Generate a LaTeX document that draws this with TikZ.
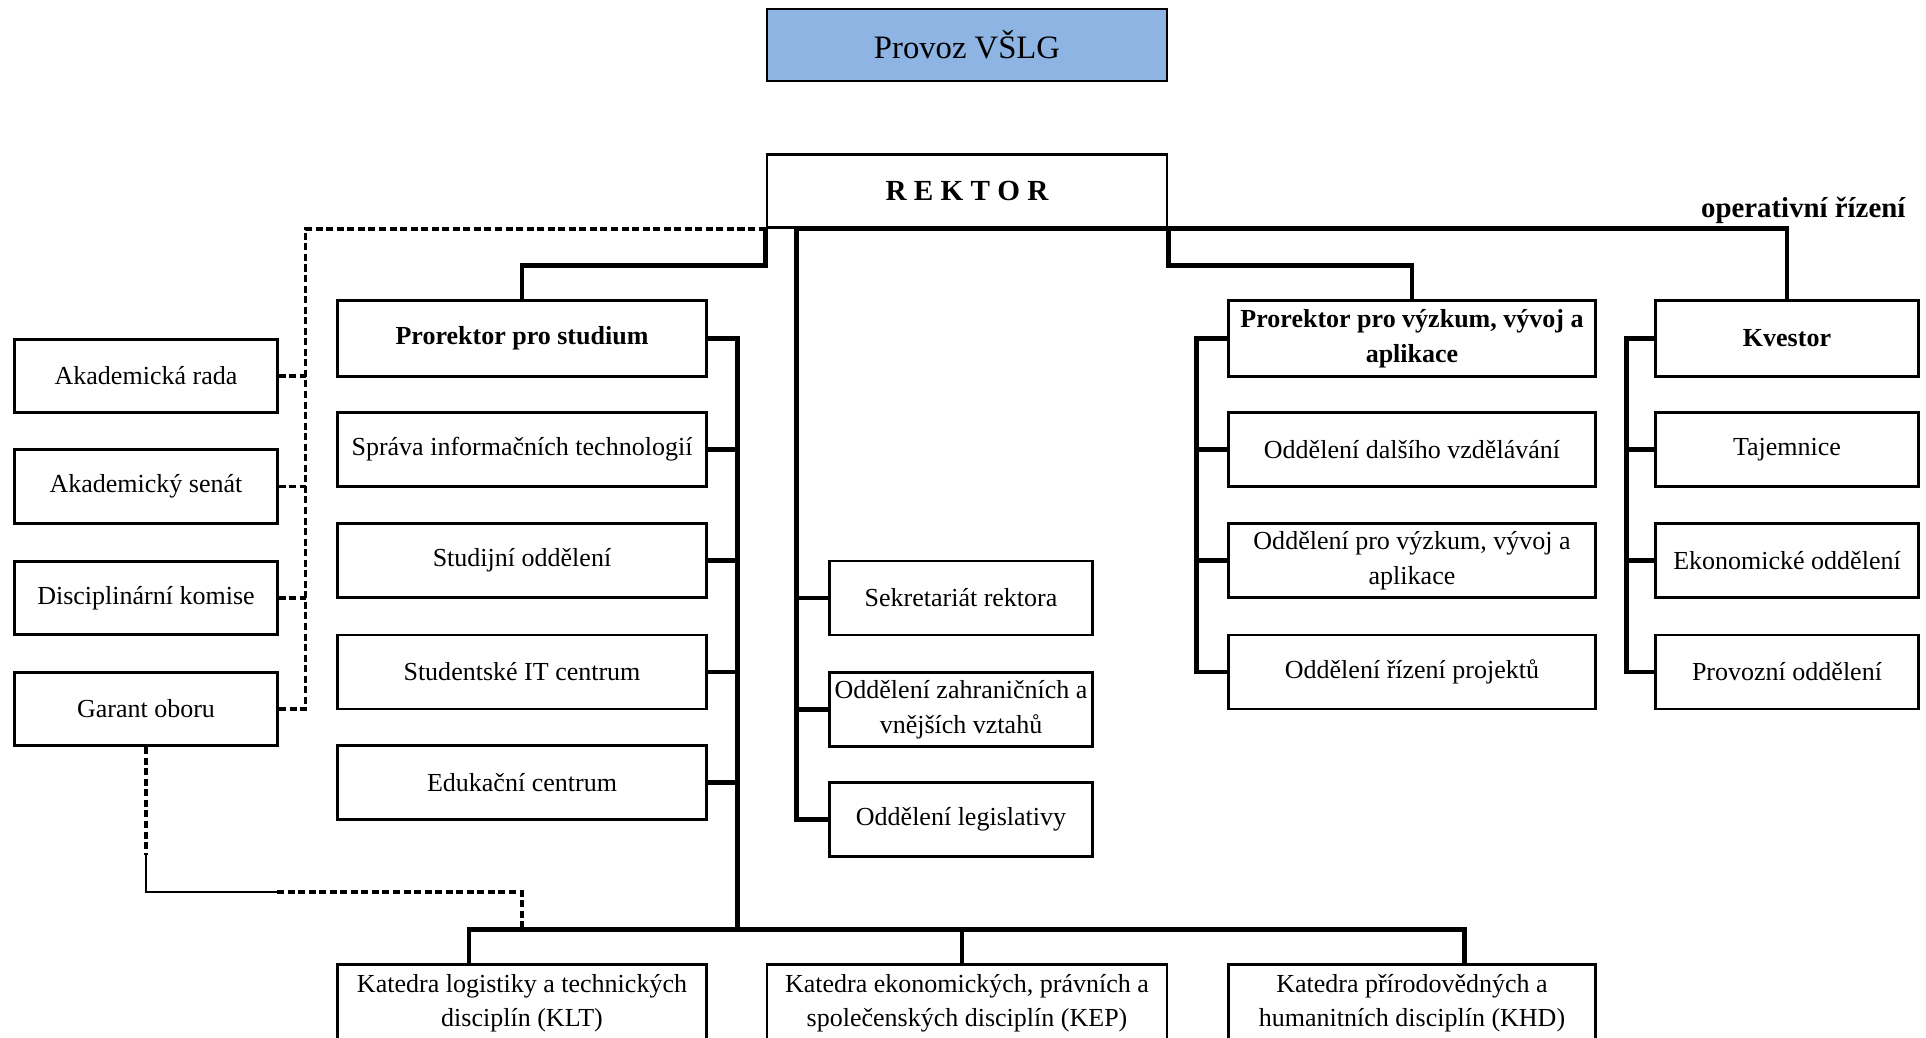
\documentclass[tikz,border=0pt]{standalone}
\usepackage{fontspec}
\setmainfont{Liberation Serif}
\usetikzlibrary{calc, positioning}
\definecolor{provozblue}{HTML}{8EB4E3}
\tikzset{
	unitbox/.style={draw, line width=0.8pt, minimum height=7.4mm, inner sep=0pt, align=center, font=\fontsize{7.4}{9.8}\selectfont},
	headbox/.style={unitbox, font=\fontsize{7.4}{9.8}\selectfont\bfseries},
	orgline/.style={line width=1.4pt},
	dashline/.style={line width=1pt, dash pattern=on 2pt off 1pt},
}

\begin{document}
\begin{tikzpicture}[x=0.1mm, y=-0.1mm]
		\useasboundingbox (0, 0) rectangle (1926, 1037);

		% top
		\node[unitbox, fill=provozblue, minimum width=40mm, minimum height=7.2mm, font=\fontsize{9.3}{11}\selectfont] (provoz) at (967, 45) {Provoz VŠLG};
		\node[unitbox, minimum width=40mm, minimum height=7.3mm, font=\fontsize{8.3}{10}\selectfont\bfseries] (rektor) at (967, 191) {R E K T O R};
		\node[anchor=base east, inner sep=0pt, font=\fontsize{8.2}{10}\selectfont\bfseries] (oper) at (1906, 217) {operativní řízení};

		% advisory bodies
		\node[unitbox, minimum width=26.3mm, minimum height=7.35mm] (akrada) at (146, 376) {Akademická rada};
		\node[unitbox, minimum width=26.3mm, minimum height=7.35mm] (aksenat) at (146, 486.5) {Akademický senát};
		\node[unitbox, minimum width=26.3mm, minimum height=7.35mm] (diskom) at (146, 598) {Disciplinární komise};
		\node[unitbox, minimum width=26.3mm, minimum height=7.35mm] (garant) at (146, 709) {Garant oboru};

		% study
		\node[headbox, minimum width=36.85mm, minimum height=7.55mm] (prostud) at (522, 338.5) {Prorektor pro studium};
		\node[unitbox, minimum width=36.85mm] (sprava) at (522, 449.5) {Správa informačních technologií};
		\node[unitbox, minimum width=36.85mm] (studijni) at (522, 560.7) {Studijní oddělení};
		\node[unitbox, minimum width=36.85mm] (sitc) at (522, 672) {Studentské IT centrum};
		\node[unitbox, minimum width=36.85mm] (edu) at (522, 782.5) {Edukační centrum};

		% rector's office
		\node[unitbox, minimum width=26.35mm] (sekret) at (961, 598) {Sekretariát rektora};
		\node[unitbox, minimum width=26.35mm] (zahr) at (961, 709.5) {Oddělení zahraničních a\\vnějších vztahů};
		\node[unitbox, minimum width=26.35mm] (legis) at (961, 819.5) {Oddělení legislativy};

		% research
		\node[headbox, minimum width=36.75mm, minimum height=7.55mm] (vyzkum) at (1412, 338.5) {Prorektor pro výzkum, vývoj a\\aplikace};
		\node[unitbox, minimum width=36.75mm] (dalsi) at (1412, 449.5) {Oddělení dalšího vzdělávání};
		\node[unitbox, minimum width=36.75mm] (ovyv) at (1412, 560.7) {Oddělení pro výzkum, vývoj a\\aplikace};
		\node[unitbox, minimum width=36.75mm] (projekty) at (1412, 672) {Oddělení řízení projektů};

		% bursar
		\node[headbox, minimum width=26.3mm, minimum height=7.55mm] (kvestor) at (1787, 338.5) {Kvestor};
		\node[unitbox, minimum width=26.3mm] (tajem) at (1787, 449.5) {Tajemnice};
		\node[unitbox, minimum width=26.3mm] (ekonom) at (1787, 560.7) {Ekonomické oddělení};
		\node[unitbox, minimum width=26.3mm] (provozni) at (1787, 672) {Provozní oddělení};

		% departments
		\node[unitbox, minimum width=36.85mm, minimum height=7.7mm] (klt) at (522, 1003) {Katedra logistiky a technických\\disciplín (KLT)};
		\node[unitbox, minimum width=40mm, minimum height=7.7mm] (kep) at (967, 1003) {Katedra ekonomických, právních a\\společenských disciplín (KEP)};
		\node[unitbox, minimum width=36.75mm, minimum height=7.7mm] (khd) at (1412, 1003) {Katedra přírodovědných a\\humanitních disciplín (KHD)};

		% rector's lines
		\coordinate (mbus) at ([xshift=3.1mm]rektor.south west);
		\draw[orgline] (mbus) -| (kvestor.north);
		\draw[orgline] (rektor.south west) -- ++(0, 37) -| (prostud.north);
		\draw[orgline] (rektor.south east) -- ++(0, 37) -| (vyzkum.north);
		\draw[orgline] (mbus) |- (legis.west);
		\foreach \n in {sekret, zahr} \draw[orgline] (\n.west) -- (\n.west -| mbus);

		% study lines and departments bus
		\coordinate (sbus) at ([xshift=2.95mm]prostud.east);
		\coordinate (kbus) at ([xshift=-5.3mm, yshift=3.4mm]klt.north);
		\draw[orgline] (prostud.east) -| (sbus |- kbus);
		\foreach \n in {sprava, studijni, sitc, edu} \draw[orgline] (\n.east) -- (\n.east -| sbus);
		\draw[orgline] (kbus |- klt.north) -- (kbus) -| ([xshift=5.25mm]khd.north);
		\draw[orgline] ([xshift=-0.5mm]kep.north) -- ([xshift=-0.5mm]kep.north |- kbus);

		% research lines
		\draw[orgline] (vyzkum.west) -- ++(-30, 0) coordinate (vbus) |- (projekty.west);
		\foreach \n in {dalsi, ovyv} \draw[orgline] (\n.west) -- (\n.west -| vbus);

		% bursar lines
		\draw[orgline] (kvestor.west) -- ++(-28, 0) coordinate (qbus) |- (provozni.west);
		\foreach \n in {tajem, ekonom} \draw[orgline] (\n.west) -- (\n.west -| qbus);

		% advisory (dashed)
		\draw[dashline] (rektor.south west) -- ++(-460, 0) coordinate (dbus) |- (garant.east);
		\foreach \n in {akrada, aksenat, diskom} \draw[dashline] (\n.east) -- (\n.east -| dbus);

		% guarantor to KLT
		\draw[dashline] (garant.south) -- ++(0, 108) coordinate (g1);
		\draw[line width=0.4pt] (g1) -- ++(0, 37) -- ++(131, 0) coordinate (g2);
		\draw[dashline] (g2) -| (klt.north |- kbus);
	\end{tikzpicture}
\end{document}
